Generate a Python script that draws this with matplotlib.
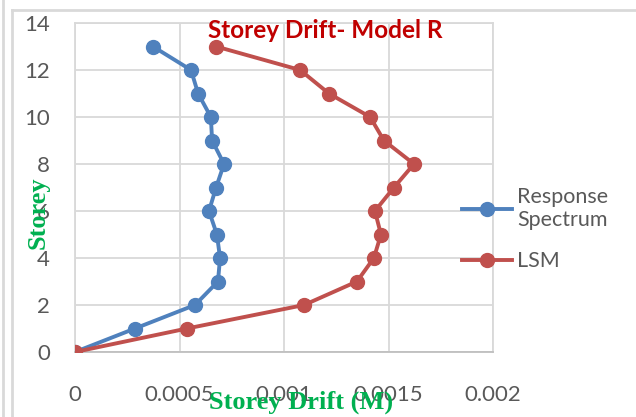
import matplotlib.pyplot as plt
from matplotlib.lines import Line2D

# storey levels and drift values
storey = [0, 1, 2, 3, 4, 5, 6, 7, 8, 9, 10, 11, 12, 13]
rs_drift = [0, 0.000287, 0.000574, 0.000684, 0.000694, 0.000679, 0.000641,
            0.000675, 0.000713, 0.000656, 0.00065, 0.000589, 0.000555, 0.000373]
lsm_drift = [0, 0.000536, 0.001096, 0.001349, 0.00143, 0.001464, 0.001435,
             0.001526, 0.001622, 0.001478, 0.001412, 0.001215, 0.001077, 0.000675]
x_ticks = [0, 0.0005, 0.001, 0.0015, 0.002]
x_labels = ["0", "0.0005", "0.001", "0.0015", "0.002"]
y_ticks = [0, 2, 4, 6, 8, 10, 12, 14]

W, H = 636, 417
fig = plt.figure(figsize=(W / 100, H / 100), dpi=100)
ax = fig.add_axes([75 / W, 1 - 352 / H, (493 - 75) / W, (352 - 23) / H])

blue = "#4F81BD"
red = "#C0504D"
ax.plot(rs_drift, storey, color=blue, lw=2.8, marker="o", ms=10, label="Response\nSpectrum", zorder=3)
ax.plot(lsm_drift, storey, color=red, lw=2.8, marker="o", ms=10, label="LSM", zorder=3)

ax.set_xlim(0, 0.002)
ax.set_ylim(0, 14)
ax.set_xticks(x_ticks)
ax.set_xticklabels(x_labels)
ax.set_yticks(y_ticks)
ax.grid(True, color="#D9D9D9", lw=1.3)
ax.set_axisbelow(True)
for s in ["top", "right", "left"]:
    ax.spines[s].set_color("#D9D9D9")
    ax.spines[s].set_linewidth(1.3)
ax.spines["bottom"].set_color("#BFBFBF")
ax.spines["bottom"].set_linewidth(1.3)
ax.tick_params(length=0, labelsize=16, labelcolor="#595959")
ax.tick_params(axis="x", pad=24)
ax.tick_params(axis="y", pad=18)
for lab in ax.get_xticklabels() + ax.get_yticklabels():
    lab.set_family("Lato")

fig.text(325 / W, 1 - 31 / H, "Storey Drift- Model R", color="#C00000", fontsize=17.5,
         fontweight="bold", family="Lato", ha="center", va="center")
fig.text(301 / W, 1 - 402 / H, "Storey Drift (M)", color="#00B050", fontsize=19,
         fontweight="bold", family="Liberation Serif", ha="center", va="center")
fig.text(38 / W, 1 - 213 / H, "Storey", color="#00B050", fontsize=19, rotation=90,
         fontweight="bold", family="Liberation Serif", ha="center", va="center")

leg = ax.legend(loc="center left", bbox_to_anchor=(443 / W, 1 - 229 / H),
                bbox_transform=fig.transFigure, frameon=False,
                labelcolor="#595959", handlelength=2.3, labelspacing=1.0,
                handletextpad=0.25, prop={"family": "Lato", "size": 15.5})

# chart outer border
fig.add_artist(Line2D([3 / W, 3 / W], [0, 1], color="#D9D9D9", lw=2))
fig.add_artist(Line2D([12 / W, 12 / W], [0, 1 - 10 / H], color="#D9D9D9", lw=2))
fig.add_artist(Line2D([12 / W, 1], [1 - 10 / H, 1 - 10 / H], color="#D9D9D9", lw=2))

fig.savefig("out.png", dpi=100)
